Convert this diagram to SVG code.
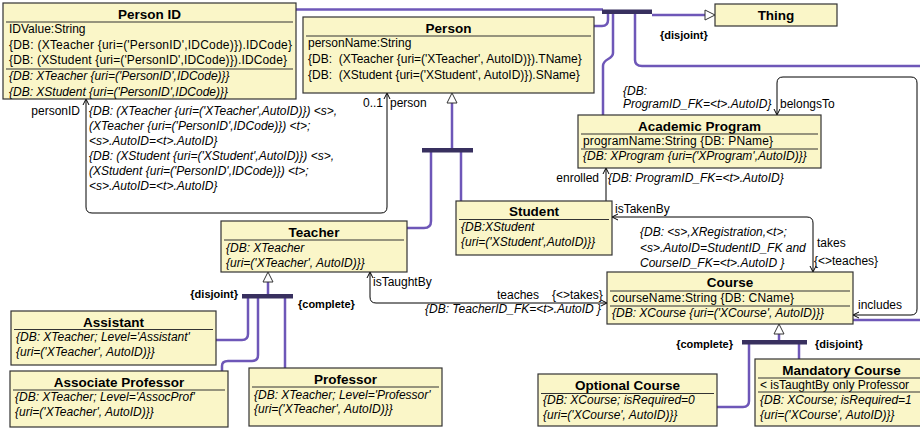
<svg xmlns="http://www.w3.org/2000/svg" width="920" height="429" viewBox="0 0 920 429">
<style>
.box{fill:#faf6c8;stroke:#333;stroke-width:1.2}
.dv{stroke:#333;stroke-width:1}
.t{font-family:"Liberation Sans",Arial,sans-serif;font-size:13.5px;font-weight:bold;text-anchor:middle;fill:#000}
.a{font-family:"Liberation Sans",Arial,sans-serif;font-size:12px;fill:#000}
.i{font-style:italic}
.c{font-family:"Liberation Sans",Arial,sans-serif;font-size:11px;font-weight:bold;fill:#000}
.g{fill:none;stroke:#6e57b8;stroke-width:2.5}
.bar{fill:#38305f}
.tri{fill:#fff;stroke:#333;stroke-width:1}
.as{fill:none;stroke:#000;stroke-width:1}
</style>
<rect width="920" height="429" fill="#fff"/>
<g id="connectors">
  <path class="g" d="M296,9.5 H603"/>
  <path class="g" d="M594,26 H602 Q608,26 608,20 V13"/>
  <path class="g" d="M613,13 V53 C613,60 603,58 603,66 V115"/>
  <path class="g" d="M635,13 V60 Q635,66 642,66 H925"/>
  <path class="g" d="M925,320 H853"/>
  <path class="g" d="M652,15 H705"/>
  <rect class="bar" x="602" y="9.5" width="50" height="4.5"/>
  <polygon class="tri" points="705,10 715,15 705,20"/>
  <text class="c" x="660" y="39">{disjoint}</text>
  <path class="g" d="M452,103 V150"/>
  <path class="g" d="M431,152 V221 Q431,228 424,228 H407"/>
  <path class="g" d="M461,152 V201"/>
  <rect class="bar" x="422" y="148" width="51" height="4.5"/>
  <polygon class="tri" points="452,93 457,103 447,103"/>
  <path class="g" d="M268,282 V295"/>
  <path class="g" d="M248,298 V334 Q248,340 242,340 H216"/>
  <path class="g" d="M258,298 V355 Q258,361 252,361 H228 Q222,361 222,366 V371"/>
  <path class="g" d="M285,298 V368"/>
  <rect class="bar" x="242" y="294" width="51" height="4.5"/>
  <polygon class="tri" points="268,272 273,282 263,282"/>
  <text class="c" x="238" y="298" text-anchor="end">{disjoint}</text>
  <text class="c" x="298" y="308">{complete}</text>
  <path class="g" d="M779,334 V341"/>
  <path class="g" d="M749,344 V401 Q749,407 743,407 H717"/>
  <path class="g" d="M799,344 V359"/>
  <rect class="bar" x="742" y="340" width="65" height="4.5"/>
  <polygon class="tri" points="779,324 784,334 774,334"/>
  <text class="c" x="733" y="348" text-anchor="end">{complete}</text>
  <text class="c" x="815" y="348">{disjoint}</text>
  <path class="as" d="M86,99 V207 Q86,213 92,213 H381 Q387,213 387,207 V93"/>
  <polyline class="as" points="83,105 86,99 89,105"/>
  <polyline class="as" points="384,99 387,93 390,99"/>
  <text class="a" x="80" y="115" text-anchor="end">personID</text>
  <text class="a" x="383" y="107" text-anchor="end">0..1</text>
  <text class="a" x="390" y="107">person</text>
  <text class="a i" x="89" y="115">{DB: (XTeacher {uri=('XTeacher',AutoID)}) &lt;s&gt;,</text>
  <text class="a i" x="89" y="130">(XTeacher {uri=('PersonID',IDCode)}) &lt;t&gt;;</text>
  <text class="a i" x="89" y="145">&lt;s&gt;.AutoID=&lt;t&gt;.AutoID}</text>
  <text class="a i" x="89" y="160">{DB: (XStudent {uri=('XStudent',AutoID)}) &lt;s&gt;,</text>
  <text class="a i" x="89" y="175">(XStudent {uri=('PersonID',IDCode)}) &lt;t&gt;;</text>
  <text class="a i" x="89" y="190">&lt;s&gt;.AutoID=&lt;t&gt;.AutoID}</text>
  <path class="as" d="M777,115 V83 Q777,77 783,77 H911 Q917,77 917,83 V309 Q917,315 911,315 H853"/>
  <polyline class="as" points="774,109 777,115 780,109"/>
  <polyline class="as" points="859,312 853,315 859,318"/>
  <text class="a i" x="623" y="95">{DB:</text>
  <text class="a i" x="623" y="108">ProgramID_FK=&lt;t&gt;.AutoID}</text>
  <text class="a" x="780" y="108">belongsTo</text>
  <text class="a" x="858" y="309">includes</text>
  <path class="as" d="M606,201 V168"/>
  <polyline class="as" points="603,174 606,168 609,174"/>
  <text class="a" x="599" y="182" text-anchor="end">enrolled</text>
  <text class="a i" x="608" y="182">{DB: ProgramID_FK=&lt;t&gt;.AutoID}</text>
  <path class="as" d="M612,217 H807 Q813,217 813,223 V272"/>
  <polyline class="as" points="618,214 612,217 618,220"/>
  <polyline class="as" points="810,266 813,272 816,266"/>
  <text class="a" x="615" y="213">isTakenBy</text>
  <text class="a i" x="640" y="236">{DB: &lt;s&gt;,XRegistration,&lt;t&gt;;</text>
  <text class="a i" x="640" y="252">&lt;s&gt;.AutoID=StudentID_FK and</text>
  <text class="a i" x="640" y="267">CourseID_FK=&lt;t&gt;.AutoID }</text>
  <text class="a" x="817" y="247">takes</text>
  <text class="a" x="814" y="265">{&lt;&gt;teaches}</text>
  <path class="as" d="M370,272 V297 Q370,303 376,303 H607"/>
  <polyline class="as" points="367,278 370,272 373,278"/>
  <polyline class="as" points="601,300 607,303 601,306"/>
  <text class="a" x="373" y="286">isTaughtBy</text>
  <text class="a" x="497" y="299">teaches</text>
  <text class="a" x="552" y="299">{&lt;&gt;takes}</text>
  <text class="a i" x="425" y="313">{DB: TeacherID_FK=&lt;t&gt;.AutoID }</text>
</g>
<g id="personID">
  <rect class="box" x="3" y="3" width="293" height="96"/>
  <text class="t" x="149.5" y="18.5">Person ID</text>
  <line class="dv" x1="6" y1="22" x2="293" y2="22"/>
  <text class="a" x="9" y="33">IDValue:String</text>
  <text class="a" x="9" y="48.5" textLength="283" lengthAdjust="spacing">{DB: (XTeacher {uri=('PersonID',IDCode)}).IDCode}</text>
  <text class="a" x="9" y="64" textLength="278" lengthAdjust="spacing">{DB: (XStudent {uri=('PersonID',IDCode)}).IDCode}</text>
  <line class="dv" x1="6" y1="69" x2="293" y2="69"/>
  <text class="a i" x="9" y="80">{DB: XTeacher {uri=('PersonID',IDCode)}}</text>
  <text class="a i" x="9" y="95.5">{DB: XStudent {uri=('PersonID',IDCode)}}</text>
</g>
<g id="person">
  <rect class="box" x="303" y="17" width="291" height="76"/>
  <text class="t" x="448.5" y="33">Person</text>
  <line class="dv" x1="306" y1="36" x2="591" y2="36"/>
  <text class="a" x="308" y="47">personName:String</text>
  <text class="a" x="308" y="63" xml:space="preserve">{DB:  (XTeacher {uri=('XTeacher', AutoID)}).TName}</text>
  <text class="a" x="308" y="79" xml:space="preserve">{DB:  (XStudent {uri=('XStudent', AutoID)}).SName}</text>
</g>
<g id="thing">
  <rect class="box" x="715" y="4" width="122" height="22"/>
  <text class="t" x="776" y="20">Thing</text>
</g>
<g id="academicProgram">
  <rect class="box" x="578" y="115" width="243" height="53"/>
  <text class="t" x="699.5" y="130.5">Academic Program</text>
  <line class="dv" x1="581" y1="134" x2="818" y2="134"/>
  <text class="a" x="583" y="145" textLength="190" lengthAdjust="spacing">programName:String {DB: PName}</text>
  <line class="dv" x1="581" y1="149" x2="818" y2="149"/>
  <text class="a i" x="583" y="160">{DB: XProgram {uri=('XProgram',AutoID)}}</text>
</g>
<g id="student">
  <rect class="box" x="456" y="201" width="156" height="54"/>
  <text class="t" x="534" y="216">Student</text>
  <line class="dv" x1="459" y1="219.5" x2="609" y2="219.5"/>
  <text class="a i" x="461" y="230.5">{DB:XStudent</text>
  <text class="a i" x="461" y="246">{uri=('XStudent',AutoID)}}</text>
</g>
<g id="teacher">
  <rect class="box" x="221" y="221" width="186" height="51"/>
  <text class="t" x="314" y="236.5">Teacher</text>
  <line class="dv" x1="224" y1="240" x2="404" y2="240"/>
  <text class="a i" x="226" y="251.5">{DB: XTeacher</text>
  <text class="a i" x="226" y="266.5">{uri=('XTeacher', AutoID)}}</text>
</g>
<g id="course">
  <rect class="box" x="607" y="272" width="246" height="52"/>
  <text class="t" x="730" y="287">Course</text>
  <line class="dv" x1="610" y1="291" x2="850" y2="291"/>
  <text class="a" x="612" y="302" textLength="182" lengthAdjust="spacing">courseName:String {DB: CName}</text>
  <line class="dv" x1="610" y1="306" x2="850" y2="306"/>
  <text class="a i" x="612" y="317">{DB: XCourse {uri=('XCourse', AutoID)}}</text>
</g>
<g id="assistant">
  <rect class="box" x="11" y="311" width="205" height="54"/>
  <text class="t" x="113.5" y="326.5">Assistant</text>
  <line class="dv" x1="14" y1="329.5" x2="213" y2="329.5"/>
  <text class="a i" x="16" y="340.5">{DB: XTeacher; Level='Assistant'</text>
  <text class="a i" x="16" y="355.5">{uri=('XTeacher', AutoID)}}</text>
</g>
<g id="associateProfessor">
  <rect class="box" x="10" y="371" width="218" height="56"/>
  <text class="t" x="119" y="386.5">Associate Professor</text>
  <line class="dv" x1="13" y1="390" x2="225" y2="390"/>
  <text class="a i" x="15" y="401">{DB: XTeacher; Level='AssocProf'</text>
  <text class="a i" x="15" y="416">{uri=('XTeacher', AutoID)}}</text>
</g>
<g id="professor">
  <rect class="box" x="249" y="368" width="193" height="58"/>
  <text class="t" x="345.5" y="383.5">Professor</text>
  <line class="dv" x1="252" y1="387" x2="439" y2="387"/>
  <text class="a i" x="254" y="398.5">{DB: XTeacher; Level='Professor'</text>
  <text class="a i" x="254" y="413">{uri=('XTeacher', AutoID)}}</text>
</g>
<g id="optionalCourse">
  <rect class="box" x="538" y="374" width="179" height="52"/>
  <text class="t" x="627.5" y="390">Optional Course</text>
  <line class="dv" x1="541" y1="393.5" x2="714" y2="393.5"/>
  <text class="a i" x="543" y="404">{DB: XCourse; isRequired=0</text>
  <text class="a i" x="543" y="419">{uri=('XCourse', AutoID)}}</text>
</g>
<g id="mandatoryCourse">
  <rect class="box" x="755" y="359" width="173" height="67"/>
  <text class="t" x="841.5" y="375">Mandatory Course</text>
  <line class="dv" x1="758" y1="378" x2="925" y2="378"/>
  <text class="a" x="760" y="388.5">&lt; isTaughtBy only Professor</text>
  <line class="dv" x1="758" y1="392" x2="925" y2="392"/>
  <text class="a i" x="760" y="404">{DB: XCourse; isRequired=1</text>
  <text class="a i" x="760" y="419">{uri=('XCourse', AutoID)}}</text>
</g>
</svg>
